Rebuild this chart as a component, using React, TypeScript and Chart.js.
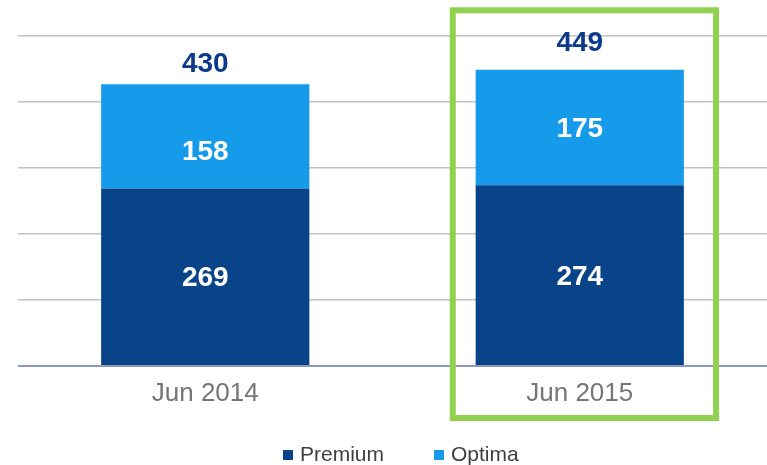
import React, { useEffect, useRef } from "react";
import { Chart, registerables } from "chart.js";

Chart.register(...registerables);

const categories = ["Jun 2014", "Jun 2015"];
const premium = [269, 274];
const optima = [158, 175];
const totals = [430, 449];
const seriesNames = ["Premium", "Optima"];
const highlightedIndex = 1;

const FONT = "'Liberation Sans', Arial, Helvetica, sans-serif";
const DARK = "#0a4488";
const LIGHT = "#159be9";

const labelsPlugin = {
  id: "valueLabels",
  afterDatasetsDraw(chart: any) {
    const ctx = chart.ctx;
    ctx.save();
    ctx.textAlign = "center";
    ctx.textBaseline = "middle";
    ctx.font = `bold 28px ${FONT}`;
    const innerOffsets = [[2, 2], [16, 2]];
    chart.data.datasets.forEach((ds: any, di: number) => {
      const meta = chart.getDatasetMeta(di);
      meta.data.forEach((el: any, i: number) => {
        const top = Math.min(el.y, el.base);
        const bot = Math.max(el.y, el.base);
        const off = (innerOffsets[di] && innerOffsets[di][i]) || 0;
        ctx.fillStyle = "#ffffff";
        ctx.fillText(String(ds.data[i]), el.x, (top + bot) / 2 + off);
      });
    });
    const totalOffsets = [20, 26];
    const topMeta = chart.getDatasetMeta(chart.data.datasets.length - 1);
    topMeta.data.forEach((el: any, i: number) => {
      ctx.fillStyle = "#0c3a8a";
      ctx.fillText(String(totals[i]), el.x, el.y - totalOffsets[i]);
    });
    ctx.restore();
  },
  afterDraw(chart: any) {
    const ctx = chart.ctx;
    const x = chart.scales.x;
    const cx = x.getPixelForValue(highlightedIndex);
    ctx.save();
    ctx.strokeStyle = "#92d050";
    ctx.lineWidth = 6;
    ctx.strokeRect(cx - 127, 10.3, 263.3, 407.7);
    ctx.restore();
    ctx.save();
    ctx.font = `21px ${FONT}`;
    ctx.textBaseline = "middle";
    ctx.textAlign = "left";
    let lx = 283;
    const ly = 455;
    chart.data.datasets.forEach((ds: any) => {
      ctx.fillStyle = ds.backgroundColor;
      ctx.fillRect(lx, ly - 5, 10, 10);
      ctx.fillStyle = "#404040";
      ctx.fillText(ds.label, lx + 17, ly);
      lx += 17 + ctx.measureText(ds.label).width + 50;
    });
    ctx.restore();
  },
};

export default function App() {
  const ref = useRef<HTMLCanvasElement>(null);
  useEffect(() => {
    if (!ref.current) return;
    const chart = new Chart(ref.current, {
      type: "bar",
      data: {
        labels: categories,
        datasets: [
          {
            label: seriesNames[0],
            data: premium,
            backgroundColor: DARK,
            borderWidth: 0,
            barPercentage: 0.556,
            categoryPercentage: 1,
          },
          {
            label: seriesNames[1],
            data: optima,
            backgroundColor: LIGHT,
            borderWidth: 0,
            barPercentage: 0.556,
            categoryPercentage: 1,
          },
        ],
      },
      options: {
        responsive: false,
        animation: false,
        maintainAspectRatio: false,
        layout: { padding: { left: 18, right: 0, top: 36, bottom: 51.8 } },
        plugins: {
          legend: { display: false },
          tooltip: { enabled: false },
        },
        scales: {
          x: {
            stacked: true,
            grid: { display: false },
            border: { display: false },
            ticks: {
              color: "#767676",
              font: { family: FONT, size: 26 },
              padding: 4,
            },
          },
          y: {
            stacked: true,
            min: 0,
            max: 500,
            ticks: { display: false, stepSize: 100 },
            border: { display: false },
            grid: {
              drawTicks: false,
              color: (c: any) => (c.tick && c.tick.value === 0 ? "#8e99c0" : "#c2c2c2"),
              lineWidth: (c: any) => (c.tick && c.tick.value === 0 ? 2 : 1.5),
            },
          },
        },
      },
      plugins: [labelsPlugin],
    });
    return () => chart.destroy();
  }, []);
  return (
    <div style={{ position: "fixed", left: 0, top: 0, width: 767, height: 465, background: "#fff" }}>
      <canvas ref={ref} width={767} height={465} style={{ display: "block" }} />
    </div>
  );
}
